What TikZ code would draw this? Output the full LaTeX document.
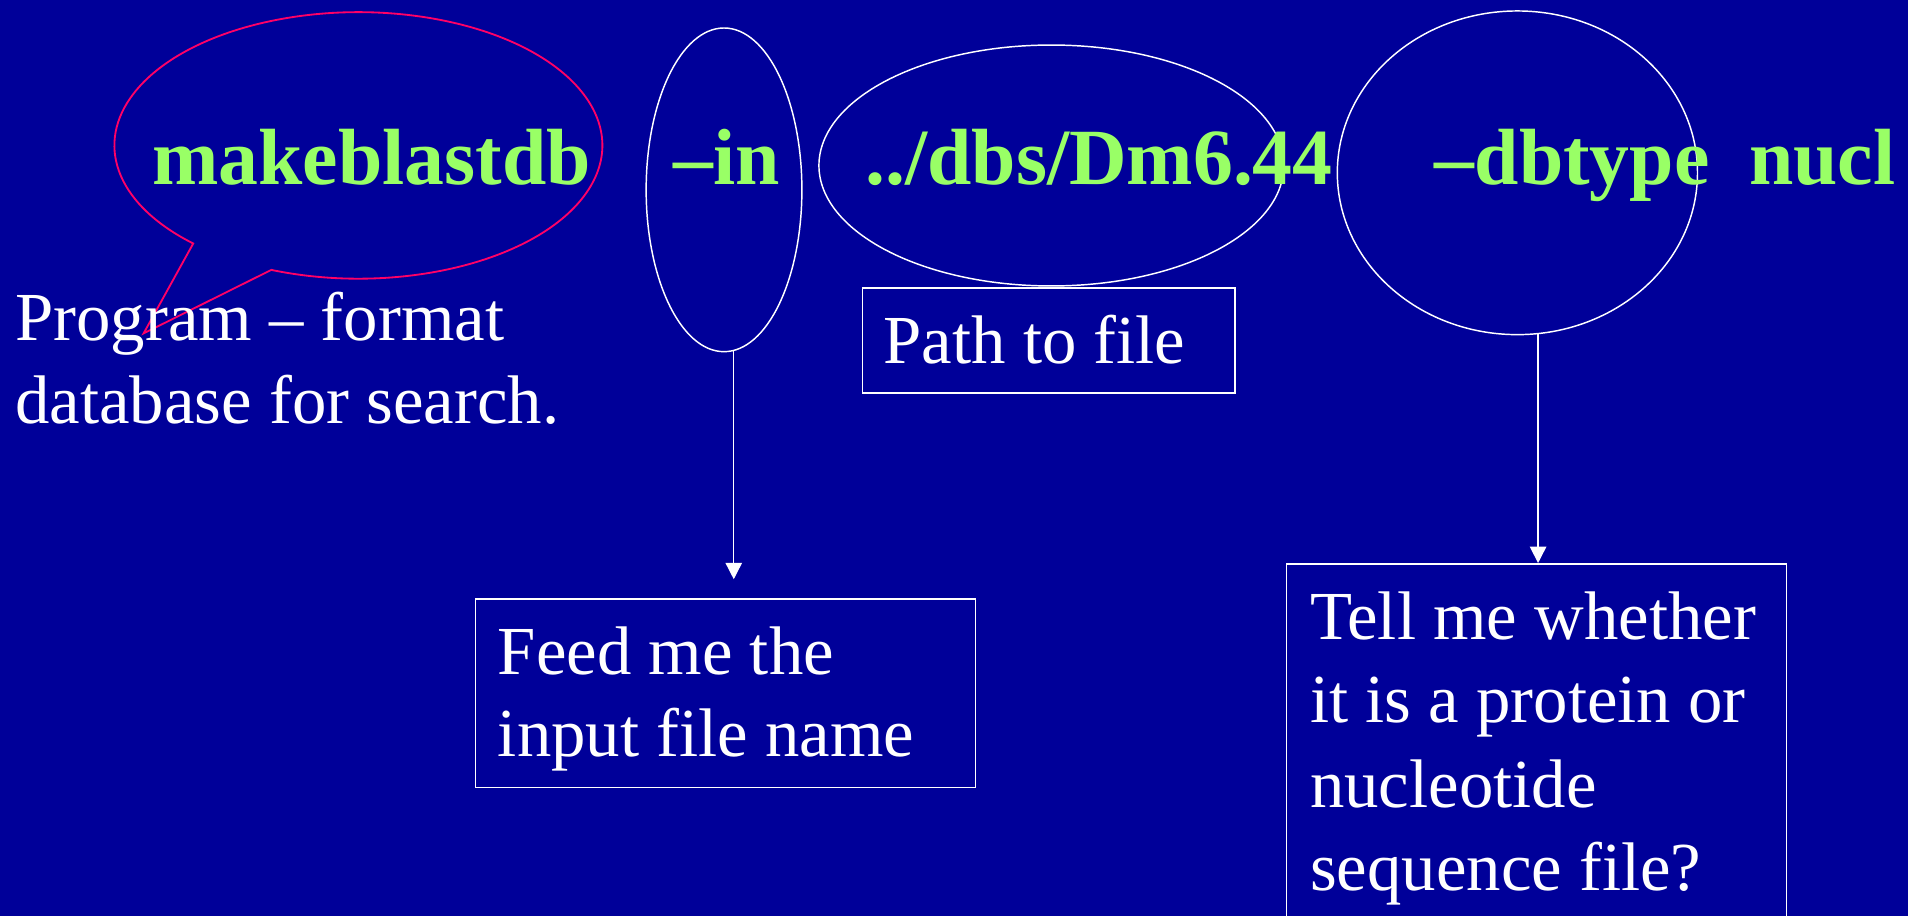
\documentclass[tikz,border=0pt]{standalone}
\usepackage{fontspec}
\setmainfont{Liberation Serif}
\usetikzlibrary{shapes.geometric,arrows.meta}
\definecolor{bgblue}{RGB}{0,0,153}
\definecolor{cmdgreen}{RGB}{153,255,102}
\definecolor{bubblered}{RGB}{255,0,102}
\tikzset{
  cmd/.style={anchor=base west, inner sep=0pt, text=cmdgreen, font=\fontsize{65.5}{78}\selectfont\bfseries},
  note/.style={anchor=base west, inner sep=0pt, text=white, font=\fontsize{56.5}{68}\selectfont},
  ring/.style={ellipse, draw=white, line width=1.2pt, inner sep=0pt},
  notebox/.style={draw=white, line width=1.4pt, inner sep=0pt, anchor=north west},
  arr/.style={draw=white, line width=1.2pt, -{Triangle[width=13.5pt,length=13.5pt]}}
}
\begin{document}
\begin{tikzpicture}[x=1pt,y=1pt]
\fill[bgblue] (0,0) rectangle (1568,-752.77);
\useasboundingbox (0,0) rectangle (1568,-752.77);
\clip (0,0) rectangle (1568,-752.77);

% speech bubble around the program name
\coordinate (bc) at (294.5,-119.5);
\coordinate (bA) at ([shift={(227.4:200.5 and 109.5)}]bc);
\coordinate (bB) at ([shift={(249.1:200.5 and 109.5)}]bc);
\coordinate (btip) at (118,-274);
\draw[bubblered, line width=1.5pt, line join=miter]
  (bA) -- (btip) -- (bB) arc[start angle=249.1, end angle=587.4, x radius=200.5, y radius=109.5] -- cycle;

% ellipses
\node[ring, minimum width=128, minimum height=266] (inell) at (595,-156) {};
\node[ring, minimum width=382, minimum height=198] (dbsell) at (864,-136) {};
\node[ring, minimum width=296, minimum height=266] (typeell) at (1247,-142) {};

% command line
\node[cmd] (prog) at (125,-152) {makeblastdb};
\node[cmd] (inopt) at (553.5,-152) {–in};
\node[cmd] (path) at (711,-152) {../dbs/Dm6.44};
\node[cmd] (typeopt) at (1179,-152) {–dbtype\ \ nucl};

% program description
\node[note] (progA) at (12.5,-280) {Program – format};
\node[note] (progB) at (12.5,-348) {database for search.};

% boxes
\node[notebox, minimum width=306, minimum height=86] (pathbox) at (708,-236) {};
\node[note] (pathtxt) at (726,-298.6) {Path to file};

\node[notebox, minimum width=411, minimum height=155] (feedbox) at (390,-491.5) {};
\node[note] (feedA) at (409,-554.5) {Feed me the};
\node[note] (feedB) at (409,-621.5) {input file name};

\node[notebox, minimum width=411, minimum height=320] (tellbox) at (1056.5,-462.7) {};
\node[note] (tellA) at (1076.5,-525.7) {Tell me whether};
\node[note] (tellB) at (1076.5,-593.4) {it is a protein or};
\node[note] (tellC) at (1076.5,-663.5) {nucleotide};
\node[note] (tellD) at (1076.5,-731.7) {sequence file?};

% connectors
\coordinate (inTip) at (603,-476);
\draw[arr] (inell.south -| inTip) ++(0,1) -- (inTip);
\coordinate (typeTip) at (1264,-462.7);
\draw[arr] (typeell.south -| typeTip) ++(0,1) -- (typeTip);
\end{tikzpicture}
\end{document}
